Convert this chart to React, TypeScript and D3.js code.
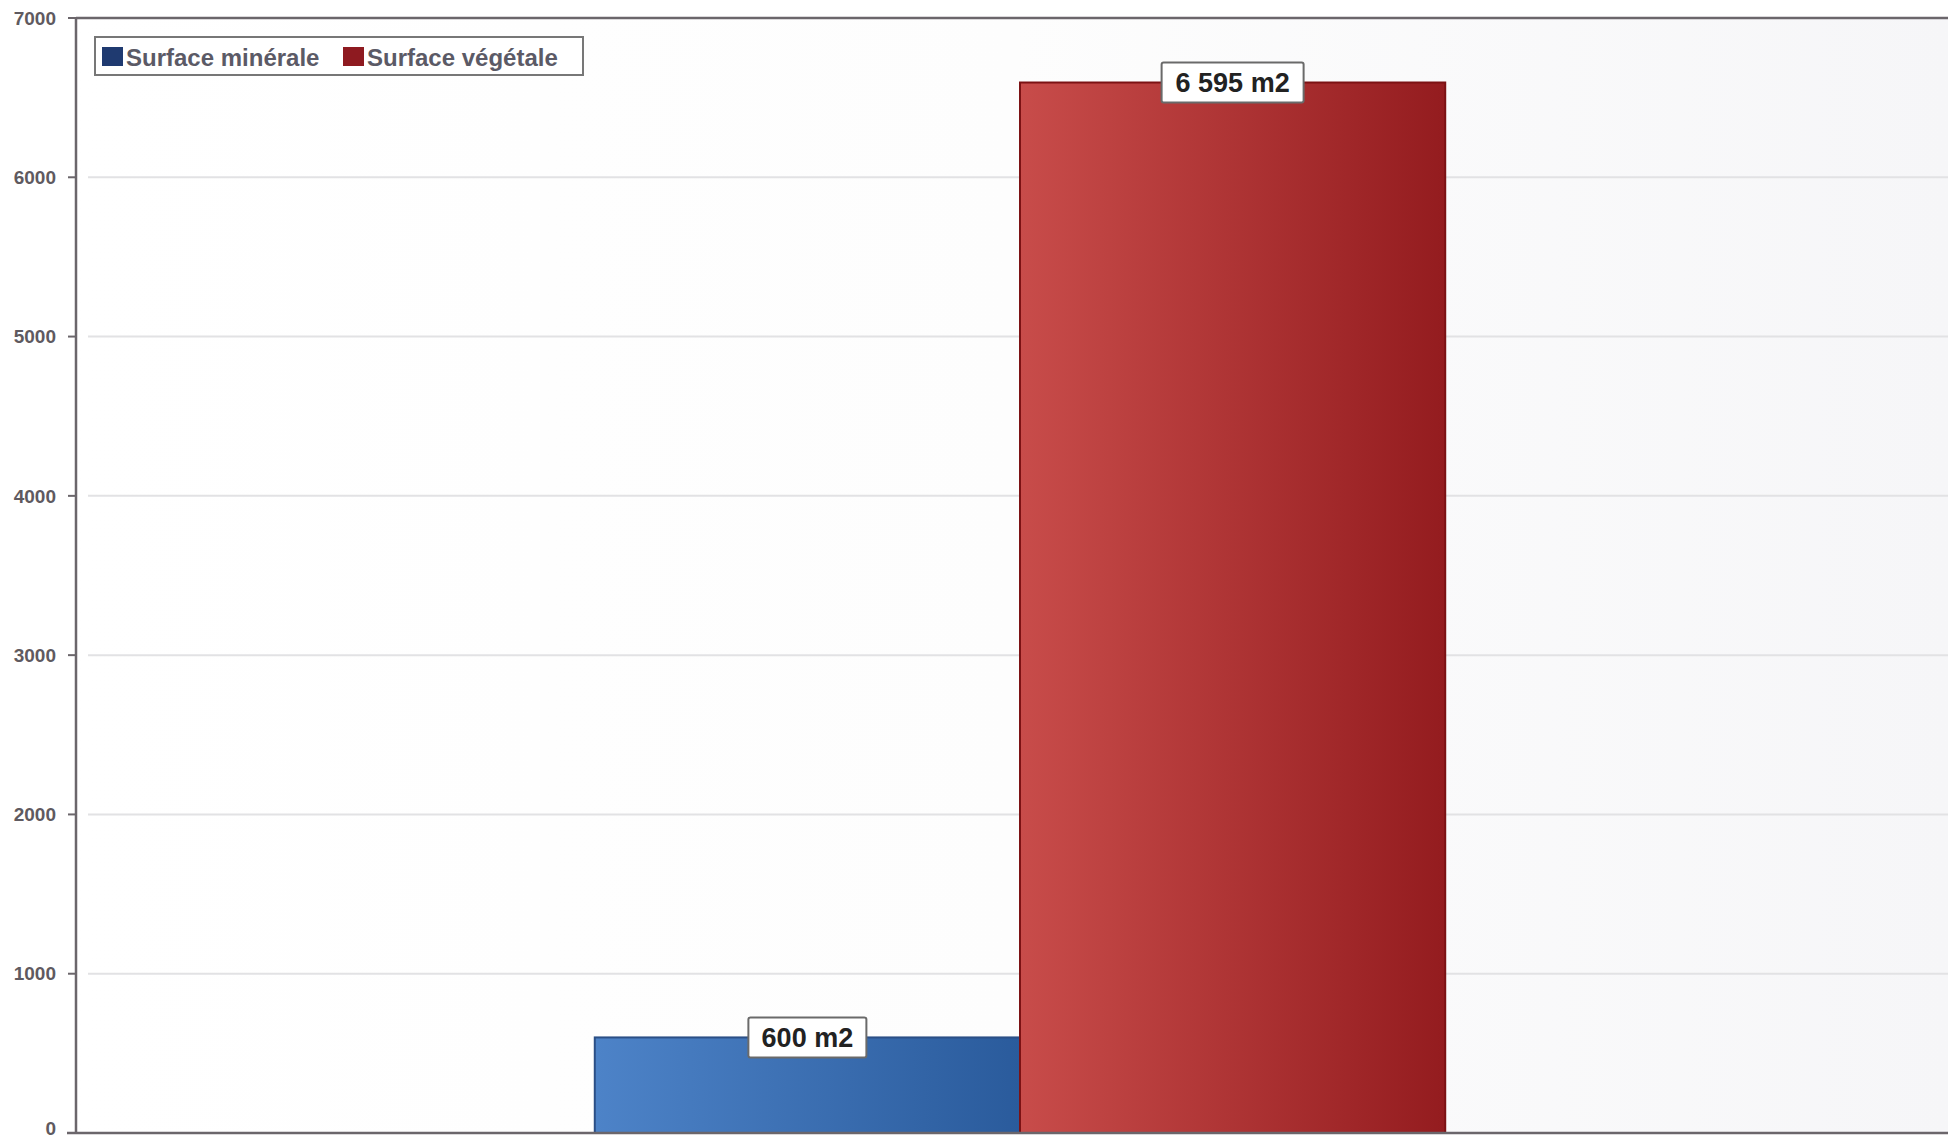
import React from "react";
import * as d3 from "d3";

const categories = [""];
const seriesNames = ["Surface minérale", "Surface végétale"];
const seriesValues = [600, 6595];
const valueLabels = ["600 m2", "6 595 m2"];
const yTicks = [0, 1000, 2000, 3000, 4000, 5000, 6000, 7000];

const W = 1948;
const H = 1141;
const left = 76;
const top = 18;
const bottom = 1133;
const rightExt = 1964;

export default function App() {
  const y = d3.scaleLinear().domain([0, 7000]).range([bottom, top]);
  const x0 = d3
    .scaleBand<string>()
    .domain(categories)
    .range([left, rightExt])
    .paddingInner(0)
    .paddingOuter(0.61);
  const x1 = d3
    .scaleBand<string>()
    .domain(seriesNames)
    .range([0, x0.bandwidth()])
    .padding(0);

  const fillIds = ["gBlue", "gRed"];
  const strokes = ["#2b4f86", "#7c1214"];
  const swatch = ["#1f3a70", "#8e1a20"];
  const font = "'Liberation Sans', Arial, sans-serif";

  return (
    <svg
      width={W}
      height={H}
      style={{ position: "absolute", left: 0, top: 0, background: "#fff" }}
      fontFamily={font}
    >
      <defs>
        <linearGradient id="gBlue" x1="0" x2="1" y1="0" y2="0">
          <stop offset="0" stopColor="#4d83c8" />
          <stop offset="1" stopColor="#2a5b9c" />
        </linearGradient>
        <linearGradient id="gRed" x1="0" x2="1" y1="0" y2="0">
          <stop offset="0" stopColor="#c84c4a" />
          <stop offset="1" stopColor="#941c1f" />
        </linearGradient>
        <linearGradient id="bg" x1="0" x2="1" y1="0" y2="0">
          <stop offset="0" stopColor="#ffffff" />
          <stop offset="0.5" stopColor="#fdfdfd" />
          <stop offset="1" stopColor="#f6f6f8" />
        </linearGradient>
      </defs>
      <rect x={left} y={top} width={W - left} height={bottom - top} fill="url(#bg)" />
      {yTicks.slice(1, -1).map((t) => (
        <line
          key={"g" + t}
          x1={left + 12}
          x2={W}
          y1={y(t)}
          y2={y(t)}
          stroke="#e2e2e4"
          strokeWidth={2}
        />
      ))}
      {categories.map((c) =>
        seriesNames.map((s, i) => {
          const bx = (x0(c) ?? 0) + (x1(s) ?? 0);
          const by = y(seriesValues[i]);
          return (
            <rect
              key={c + s}
              x={bx}
              y={by}
              width={x1.bandwidth()}
              height={bottom - by}
              fill={`url(#${fillIds[i]})`}
              stroke={strokes[i]}
              strokeWidth={2}
            />
          );
        })
      )}
      {/* axes */}
      <line x1={left} x2={left} y1={top} y2={bottom} stroke="#6b666b" strokeWidth={2.5} />
      <line x1={left - 9} x2={W} y1={bottom} y2={bottom} stroke="#6b666b" strokeWidth={2.5} />
      <line x1={left} x2={W} y1={top} y2={top} stroke="#6b666b" strokeWidth={2.5} />
      {yTicks.map((t) => (
        <g key={"t" + t}>
          <line x1={left - 8} x2={left} y1={y(t)} y2={y(t)} stroke="#6b666b" strokeWidth={2} />
          <text
            x={56}
            y={t === 0 ? y(t) - 5 : y(t)}
            dy="0.35em"
            textAnchor="end"
            fontSize={19}
            fontWeight="bold"
            fill="#5f5a60"
          >
            {t}
          </text>
        </g>
      ))}
      {/* value labels */}
      {categories.map((c) =>
        seriesNames.map((s, i) => {
          const cx = (x0(c) ?? 0) + (x1(s) ?? 0) + x1.bandwidth() / 2;
          const cy = y(seriesValues[i]);
          const bw = i === 0 ? 118 : 142;
          return (
            <g key={"l" + s}>
              <rect
                x={cx - bw / 2}
                y={cy - 20}
                width={bw}
                height={40}
                fill="#fff"
                stroke="#6a6a6a"
                strokeWidth={2}
                rx={2}
              />
              <text
                x={cx}
                y={cy}
                dy="0.36em"
                textAnchor="middle"
                fontSize={27}
                fontWeight="bold"
                fill="#222"
              >
                {valueLabels[i]}
              </text>
            </g>
          );
        })
      )}
      {/* legend */}
      <rect x={95} y={37} width={488} height={38} fill="#fff" stroke="#777" strokeWidth={2} />
      {seriesNames.map((s, i) => {
        const lx = i === 0 ? 102 : 343;
        return (
          <g key={"lg" + s}>
            <rect x={lx} y={47} width={21} height={19} fill={swatch[i]} />
            <text x={lx + 24} y={57} dy="0.36em" fontSize={24} fontWeight="bold" fill="#5b5a66">
              {s}
            </text>
          </g>
        );
      })}
    </svg>
  );
}
